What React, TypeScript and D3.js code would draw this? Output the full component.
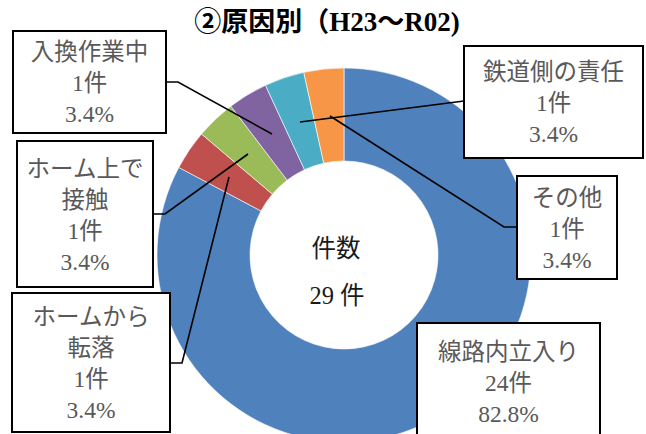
import React from "react";
import * as d3 from "d3";

const categories = ["線路内立入り", "ホームから転落", "ホーム上で接触", "入換作業中", "鉄道側の責任", "その他"];
const counts = [24, 1, 1, 1, 1, 1];
const percents = ["82.8%", "3.4%", "3.4%", "3.4%", "3.4%", "3.4%"];
const colors = ["#4F81BD", "#C0504D", "#9BBB59", "#8064A2", "#4BACC6", "#F79646"];
const labelLines = [
  ["線路内立入り"],
  ["ホームから", "転落"],
  ["ホーム上で", "接触"],
  ["入換作業中"],
  ["鉄道側の責任"],
  ["その他"],
];
const title = "②原因別（H23～R02)";
const centerLines = ["件数", "29 件"];

// layout of label boxes
const boxes = [
  { x: 417, y: 323, w: 183, h: 130, ax: null, ay: null, sx: null },
  { x: 12, y: 293, w: 158, h: 139, ax: 170, ay: 363, sx: 182 },
  { x: 17, y: 141, w: 136, h: 146, ax: 153, ay: 214, sx: 165 },
  { x: 13, y: 31, w: 153, h: 102, ax: 166, ay: 82, sx: 178 },
  { x: 464, y: 46, w: 179, h: 112, ax: 464, ay: 101, sx: 464 },
  { x: 517, y: 176, w: 100, h: 103, ax: 517, ay: 227, sx: 504 },
];
const tips = [null, [229, 177], [248, 154], [272, 134], [300, 122], [330, 116]];

const latinFont = "'Liberation Serif', 'DejaVu Serif', serif";
const cjkFont = "'Noto Sans CJK JP', sans-serif";

function runs(s: string) {
  const out: { t: string; latin: boolean }[] = [];
  for (const ch of s) {
    const latin = ch.charCodeAt(0) < 0x2000;
    const last = out[out.length - 1];
    if (last && last.latin === latin) last.t += ch;
    else out.push({ t: ch, latin });
  }
  return out.map((r, i) => (
    <tspan key={i} fontFamily={r.latin ? latinFont : cjkFont}>{r.t}</tspan>
  ));
}

export default function App() {
  const W = 646, H = 434;
  const cx = 344, cy = 255, R = 187, r = 94;
  const pie = d3.pie<number>().sort(null).value((d) => d).startAngle(0).endAngle(2 * Math.PI);
  const arcs = pie(counts);
  const arc = d3.arc<d3.PieArcDatum<number>>().innerRadius(r).outerRadius(R);
  const lh = 31;
  return (
    <div style={{ position: "fixed", left: 0, top: 0 }}>
      <svg width={W} height={H} style={{ display: "block" }}>
        <rect width={W} height={H} fill="#fff" />
        <g transform={`translate(${cx},${cy})`}>
          {arcs.map((a, i) => (
            <path key={i} d={arc(a) || ""} fill={colors[i]} stroke="#fff" strokeWidth={0.6} />
          ))}
        </g>
        <text x={336} y={248} dy="0.35em" textAnchor="middle" fontSize={24.5} fill="#1a1a1a">{runs(centerLines[0])}</text>
        <text x={337} y={295} dy="0.35em" textAnchor="middle" fontSize={24.5} fill="#1a1a1a">{runs(centerLines[1])}</text>
        <text x={327} y={31} textAnchor="middle" fontWeight="bold" fontSize={27} fill="#000">{runs(title)}</text>
        {boxes.map((b, i) => {
          const lines = [...labelLines[i], `${counts[i]}件`, percents[i]];
          const n = lines.length;
          const mid = b.y + (i === 0 ? 60 : b.h / 2 + 1);
          const t = tips[i];
          return (
            <g key={i}>
              {t && b.ax !== null && (
                <polyline
                  points={`${b.ax},${b.ay} ${b.sx},${b.ay} ${t[0]},${t[1]}`}
                  fill="none"
                  stroke="#000"
                  strokeWidth={1.6}
                />
              )}
              <rect x={b.x} y={b.y} width={b.w} height={b.h} fill="#fff" stroke="#000" strokeWidth={2} />
              {lines.map((s, k) => (
                <text
                  key={k}
                  x={b.x + b.w / 2}
                  y={mid + (k - (n - 1) / 2) * lh}
                  dy="0.35em"
                  textAnchor="middle"
                  fontSize={23.5}
                  fill="#595959"
                >
                  {runs(s)}
                </text>
              ))}
            </g>
          );
        })}
      </svg>
    </div>
  );
}
